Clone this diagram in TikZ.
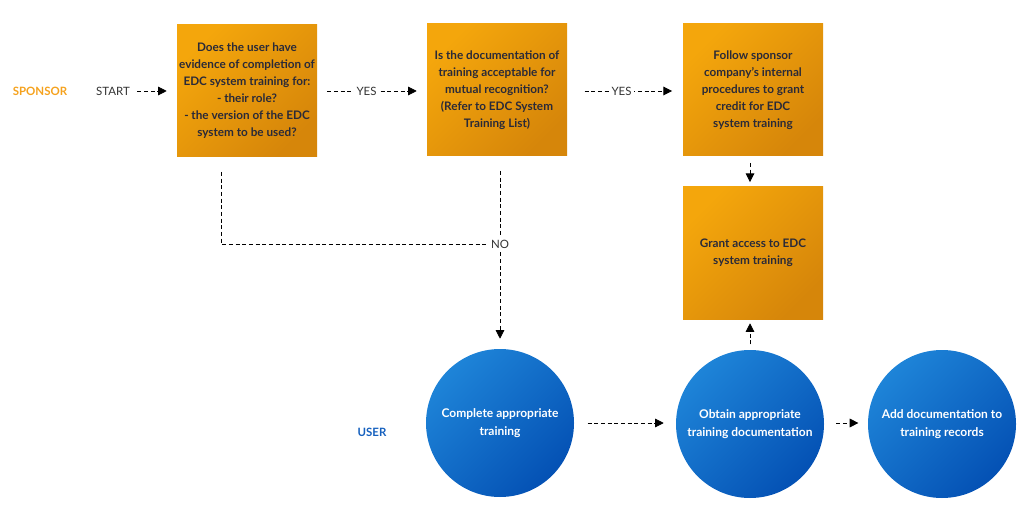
\documentclass[tikz,border=0pt]{standalone}
\usepackage{fontspec}
\setmainfont{Lato}
\usetikzlibrary{arrows.meta}
\definecolor{orgA}{HTML}{F4A60C}
\definecolor{orgB}{HTML}{D6860A}
\definecolor{bluA}{HTML}{1E84D8}
\definecolor{bluB}{HTML}{0451B4}
\definecolor{boxtxt}{HTML}{2A2A38}
\definecolor{sponsorc}{HTML}{F5A21E}
\definecolor{userc}{HTML}{1560BE}
\definecolor{lbltxt}{HTML}{333333}
\begin{document}
\begin{tikzpicture}[x=0.75pt,y=-0.75pt,
  stepbox/.style={minimum width=105pt, minimum height=99pt, inner sep=0pt,
    top color=orgA, bottom color=orgB, shading angle=45,
    align=center, text=boxtxt,
    font=\fontsize{8.8}{12.75}\selectfont\bfseries},
  usercirc/.style={circle, minimum size=111pt, inner sep=0pt,
    top color=bluA, bottom color=bluB, shading angle=45,
    align=center, text=white,
    font=\fontsize{9}{13.5}\selectfont\bfseries},
  lane/.style={font=\fontsize{8.6}{10}\selectfont\bfseries},
  lbl/.style={font=\fontsize{8.6}{10}\selectfont, text=lbltxt, fill=white, inner sep=2pt},
  conn/.style={dash pattern=on 3pt off 2pt, line width=0.6pt},
  arr/.style={conn, -{Triangle[length=6.5pt,width=6.5pt]}}
]
\useasboundingbox (0,0) rectangle (1035,520);

\node[lane, text=sponsorc] (sp) at (40,91) {SPONSOR};
\node[lane, text=userc] (us) at (372,432) {USER};
\node[font=\fontsize{8.6}{10}\selectfont, text=lbltxt, inner sep=1pt] (start) at (113,91) {START};

\node[stepbox] (b1) at (247,91) {Does the user have\\evidence of completion of\\EDC system training for:\\- their role?\\- the version of the EDC\\system to be used?};
\node[stepbox] (b2) at (497,90) {Is the documentation of\\training acceptable for\\mutual recognition?\\(Refer to EDC System\\Training List)};
\node[stepbox] (b3) at (753,90) {Follow sponsor\\company’s internal\\procedures to grant\\credit for EDC\\system training};
\node[stepbox] (b4) at (753,253) {Grant access to EDC\\system training};

\node[usercirc] (c1) at (500,423) {Complete appropriate\\training};
\node[usercirc] (c2) at (750,424) {Obtain appropriate\\training documentation};
\node[usercirc] (c3) at (942,424) {Add documentation to\\training records};

% START -> b1
\draw[arr, shorten <=4.5pt, shorten >=7.5pt] (start) -- (b1.west |- start);
% b1 -> b2 YES
\draw[arr, shorten <=7.5pt, shorten >=7.5pt] (b1.east |- start) -- node[lbl, pos=0.45] (yes1) {YES} (b2.west |- start);
% b2 -> b3 YES
\draw[arr, shorten <=13pt, shorten >=8pt] (b2.east |- start) -- node[lbl, pos=0.47] (yes2) {YES} (b3.west |- start);
% NO branch
\node[lbl, inner sep=3pt] (no) at (500,244) {NO};
\draw[conn, shorten <=11pt] (b1.south -| 221,0) |- (no.west);
\draw[conn, shorten <=11pt] (b2.south -| no) -- (no.north);
\draw[arr, shorten >=7.5pt] (no.south) -- (c1.north);
% b3 -> b4
\draw[arr, shorten <=5pt, shorten >=3.5pt] (b3.south -| c2) -- (b4.north -| c2);
% c2 -> b4
\draw[arr, shorten <=4pt, shorten >=3pt] (c2.north) -- (b4.south -| c2);
% c1 -> c2
\draw[arr, shorten <=10pt, shorten >=9pt] (c1.east) -- (c1.east -| c2.west);
% c2 -> c3
\draw[arr, shorten <=9pt, shorten >=7pt] (c1.east -| c2.east) -- (c1.east -| c3.west);
\end{tikzpicture}
\end{document}
